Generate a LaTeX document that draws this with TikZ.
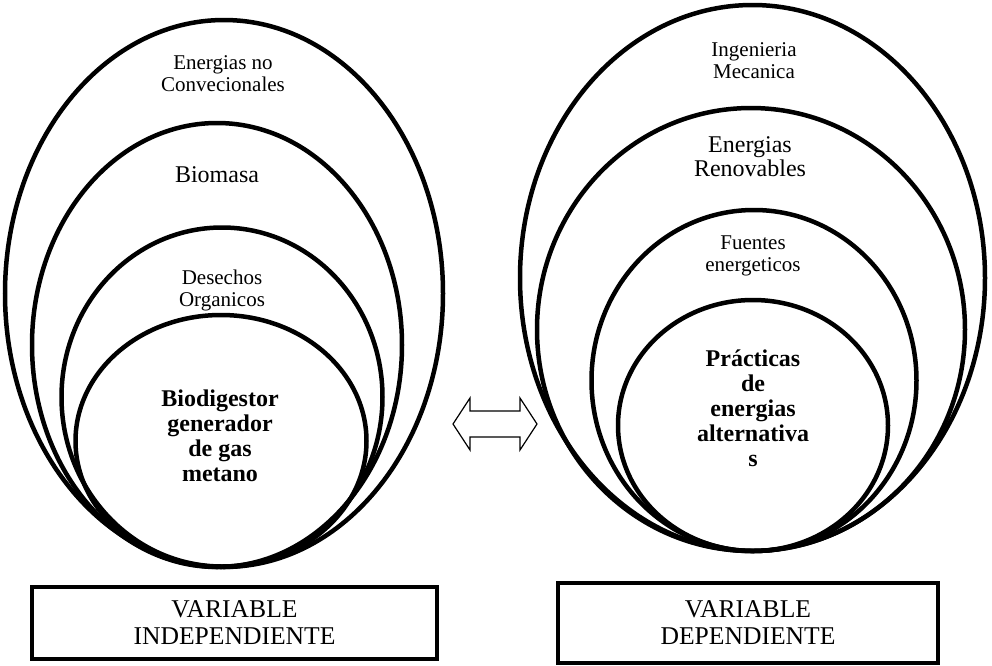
\documentclass[tikz,border=0pt]{standalone}
\usepackage{fontspec}
\setmainfont{Liberation Serif}
\usetikzlibrary{shapes.geometric}

\begin{document}
\begin{tikzpicture}[
    x=0.5pt, y=-0.5pt,
    ring/.style={ellipse, draw, line width=2.25pt, inner sep=0pt},
    small/.style={align=center, inner sep=0pt, font=\fontsize{10.5}{11}\selectfont},
    mid/.style={align=center, inner sep=0pt, font=\fontsize{12}{12}\selectfont},
    core/.style={align=center, inner sep=0pt, font=\fontsize{12}{12.5}\selectfont\bfseries},
    varbox/.style={rectangle, draw, line width=2pt, align=center,
    font=\fontsize{12.8}{13.5}\selectfont}
]
\useasboundingbox (0,0) rectangle (992,665);
% independent side
\node[ring, minimum width=219pt, minimum height=273.5pt] (l1) at (224,293.5) {};
\node[ring, minimum width=185pt, minimum height=222pt] (l2) at (217,345) {};
\node[ring, minimum width=160.5pt, minimum height=169.5pt] (l3) at (222,397) {};
\node[ring, minimum width=145.5pt, minimum height=126pt] (l4) at (221,441) {};
\node[small] (t1) at (223,74) {Energias no\\Convecionales};
\node[mid] (t2) at (217,175) {Biomasa};
\node[small] (t3) at (222,290) {Desechos\\Organicos};
\node[core] (t4) at (220,436) {Biodigestor\\generador\\de gas\\metano};
% dependent side
\node[ring, minimum width=232.5pt, minimum height=273pt] (r1) at (752.5,278) {};
\node[ring, minimum width=214pt, minimum height=221.5pt] (r2) at (751,329.5) {};
\node[ring, minimum width=162.5pt, minimum height=170.5pt] (r3) at (754,380.5) {};
\node[ring, minimum width=135pt, minimum height=125.5pt] (r4) at (753,425.5) {};
\node[small] (u1) at (754,60.5) {Ingenieria\\Mecanica};
\node[mid] (u2) at (750,157) {Energias\\Renovables};
\node[small] (u3) at (753,256) {Fuentes\\energeticos};
\node[core] (u4) at (753,408) {Prácticas\\de\\energias\\alternativa\\s};
% variable boxes
\node[varbox, minimum width=202.5pt, minimum height=36pt] (vi) at (234.5,623) {VARIABLE\\INDEPENDIENTE};
\node[varbox, minimum width=190pt, minimum height=40pt] (vd) at (748,623) {VARIABLE\\DEPENDIENTE};
% double arrow between both sides
\coordinate (link) at (495,424);
\draw[line width=0.6pt, line join=miter] (453,424) -- (470,398) -- (470,411) -- (520,411)
    -- (520,398) -- (537,424) -- (520,450) -- (520,437) -- (470,437) -- (470,450) -- cycle;
\end{tikzpicture}
\end{document}
